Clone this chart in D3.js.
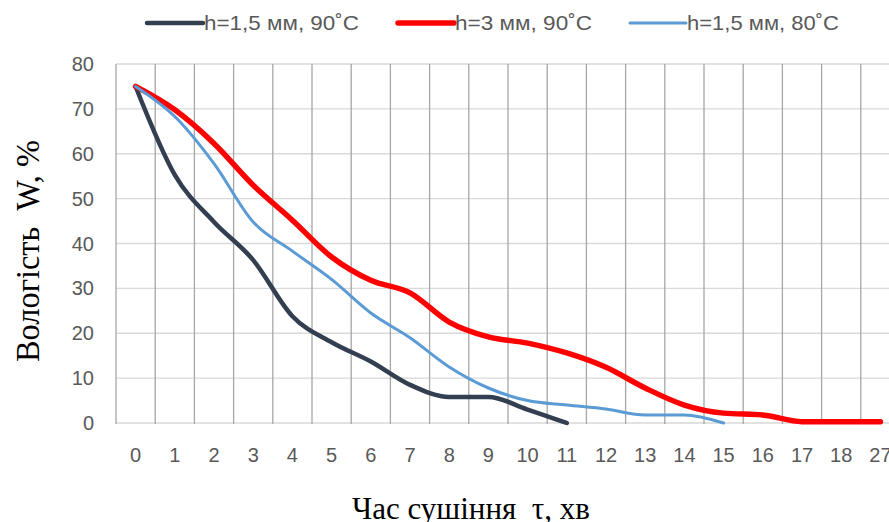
<!DOCTYPE html>
<html>
<head>
<meta charset="utf-8">
<script src="https://cdn.jsdelivr.net/npm/d3@7"></script>
<style>
  body { margin: 0; background: #fff; }
  text { white-space: pre; }
</style>
</head>
<body>
<div id="chart"></div>
<script>
// час сушіння, хв (категорії осі X)
var times = ["0", "1", "2", "3", "4", "5", "6", "7", "8", "9", "10", "11", "12", "13", "14", "15", "16", "17", "18", "27"];
var yTicks = [0, 10, 20, 30, 40, 50, 60, 70, 80];

// вологість W, %
var seriesNames = ["h=1,5 мм, 90˚C", "h=3 мм, 90˚C", "h=1,5 мм, 80˚C"];
var w15_90 = [75, 55.3, 44.8, 36.3, 23.8, 18, 13.7, 8.5, 5.8, 5.8, 3, 0];
var w3_90 = [75, 69.8, 62.3, 53, 45.2, 37, 31.8, 29, 22.5, 19.2, 17.8, 15.6, 12.4, 7.8, 4, 2.2, 1.8, 0.3, 0.3, 0.3];
var w15_80 = [75, 68.3, 57.8, 44.8, 38.3, 32, 24.5, 19, 12.5, 7.8, 5, 4, 3.1, 1.8, 1.8, 0];

var colors = ["#333f50", "#ff0000", "#5b9bd5"];
var widths = [4.5, 5.5, 3];

var W = 889, H = 522;
var plotLeft = 116, plotTop = 64, plotBottom = 423;
var band = 39.2;
var labelFont = "'Liberation Sans', Arial, sans-serif";
var titleFont = "'Liberation Serif', 'Times New Roman', serif";

var svg = d3.select("#chart").append("svg")
    .attr("width", W)
    .attr("height", H);

var x = d3.scaleBand()
    .domain(times)
    .range([plotLeft, plotLeft + band * times.length])
    .padding(0);

var y = d3.scaleLinear()
    .domain([0, 80])
    .range([plotBottom, plotTop]);

// горизонтальна сітка
svg.append("g")
    .selectAll("line")
    .data(yTicks)
    .join("line")
    .attr("x1", plotLeft)
    .attr("x2", W)
    .attr("y1", d => y(d))
    .attr("y2", d => y(d))
    .attr("stroke", "#d9d9d9")
    .attr("stroke-width", 1.3);

// вертикальна сітка (межі категорій)
svg.append("g")
    .selectAll("line")
    .data(times)
    .join("line")
    .attr("x1", d => x(d))
    .attr("x2", d => x(d))
    .attr("y1", plotTop)
    .attr("y2", plotBottom + 1)
    .attr("stroke", "#a6a6a6")
    .attr("stroke-width", 1.3);

// підписи осі Y
svg.append("g")
    .selectAll("text")
    .data(yTicks)
    .join("text")
    .attr("x", 94)
    .attr("y", d => y(d))
    .attr("dy", "0.35em")
    .attr("text-anchor", "end")
    .attr("font-family", labelFont)
    .attr("font-size", 20)
    .attr("fill", "#595959")
    .text(d => d);

// підписи осі X
svg.append("g")
    .selectAll("text")
    .data(times)
    .join("text")
    .attr("x", d => x(d) + x.bandwidth() / 2)
    .attr("y", 455)
    .attr("dy", "0.35em")
    .attr("text-anchor", "middle")
    .attr("font-family", labelFont)
    .attr("font-size", 20)
    .attr("fill", "#595959")
    .text(d => d);

// лінії
var line = d3.line()
    .x((d, i) => x(times[i]) + x.bandwidth() / 2)
    .y(d => y(d))
    .curve(d3.curveMonotoneX);

var allSeries = [w15_90, w3_90, w15_80];
allSeries.forEach(function (s, k) {
    svg.append("path")
        .datum(s)
        .attr("d", line)
        .attr("fill", "none")
        .attr("stroke", colors[k])
        .attr("stroke-width", widths[k])
        .attr("stroke-linejoin", "round")
        .attr("stroke-linecap", "round");
});

// легенда
var legendX = [147, 398, 630];
var legendLen = [155, 137, 152];
seriesNames.forEach(function (name, k) {
    var g = svg.append("g").attr("transform", "translate(" + legendX[k] + ",23)");
    g.append("line")
        .attr("x1", 0).attr("x2", 56)
        .attr("y1", 0).attr("y2", 0)
        .attr("stroke", colors[k])
        .attr("stroke-width", widths[k])
        .attr("stroke-linecap", "round");
    g.append("text")
        .attr("x", 57)
        .attr("y", 0)
        .attr("dy", "0.35em")
        .attr("font-family", labelFont)
        .attr("font-size", 21)
        .attr("fill", "#595959")
        .attr("textLength", legendLen[k])
        .attr("lengthAdjust", "spacingAndGlyphs")
        .text(name);
});

// назви осей
svg.append("text")
    .attr("transform", "translate(27,251) rotate(-90)")
    .attr("text-anchor", "middle")
    .attr("dy", "0.35em")
    .attr("font-family", titleFont)
    .attr("font-size", 34)
    .attr("fill", "#000")
    .attr("textLength", 222)
    .attr("lengthAdjust", "spacingAndGlyphs")
    .text("Вологість  W, %");

svg.append("text")
    .attr("x", 471)
    .attr("y", 508)
    .attr("text-anchor", "middle")
    .attr("dy", "0.35em")
    .attr("font-family", titleFont)
    .attr("font-size", 32)
    .attr("fill", "#000")
    .attr("textLength", 238)
    .attr("lengthAdjust", "spacingAndGlyphs")
    .text("Час сушіння  τ, хв");
</script>
</body>
</html>
